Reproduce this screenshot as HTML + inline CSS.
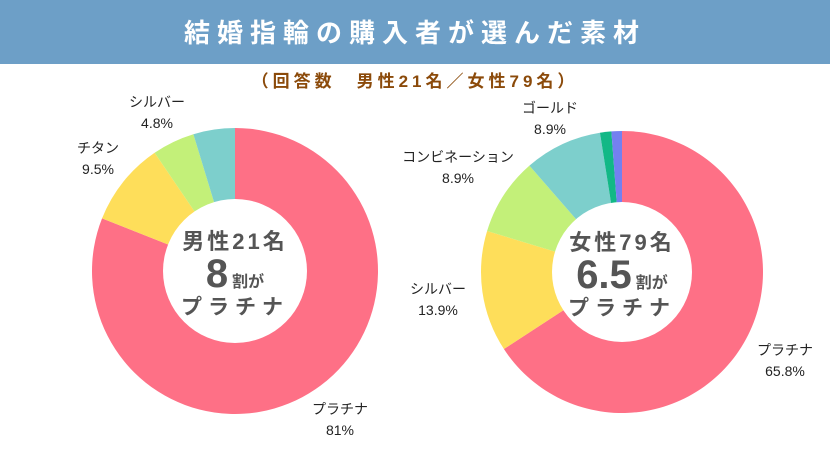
<!DOCTYPE html>
<html><head><meta charset="utf-8">
<style>
body{margin:0;width:830px;height:450px;background:#fff;overflow:hidden;font-family:"Liberation Sans","Noto Sans CJK JP",sans-serif;}
svg text{font-family:"Liberation Sans","Noto Sans CJK JP",sans-serif;}
</style></head>
<body>
<svg id="c" width="830" height="450">
<rect x="0" y="0" width="830" height="64" fill="#6d9fc7"/>
<text x="415" y="42" text-anchor="middle" font-size="26" font-weight="bold" fill="#fff" letter-spacing="7">結婚指輪の購入者が選んだ素材</text>
<text x="415" y="87" text-anchor="middle" font-size="17" font-weight="bold" fill="#8b4a0a" letter-spacing="4">（回答数　男性21名／女性79名）</text>
<g id="left"></g><g id="right"></g>
</svg>
<script>
const leftValues=[81,9.5,4.8,4.7];
const leftLabels=["プラチナ","チタン","シルバー",""];
const rightValues=[65.8,13.9,8.9,8.9,1.3,1.2];
const rightLabels=["プラチナ","シルバー","コンビネーション","ゴールド","",""];
const leftColors=["#fe7086","#fede5a","#c3f079","#7dcfcc"];
const rightColors=["#fe7086","#fede5a","#c3f079","#7dcfcc","#12b886","#7480f0"];
const NS="http://www.w3.org/2000/svg";
function donut(g,cx,cy,R,r,vals,cols,labels,labelPos){
  const tot=vals.reduce((a,b)=>a+b,0);let a0=0;
  vals.forEach((v,i)=>{
    const a1=a0+v/tot*2*Math.PI;
    const p=(a,rad)=>[cx+rad*Math.sin(a),cy-rad*Math.cos(a)];
    const [x0,y0]=p(a0,R),[x1,y1]=p(a1,R);
    const lg=(a1-a0)>Math.PI?1:0;
    const path=document.createElementNS(NS,"path");
    path.setAttribute("d",`M${cx},${cy}L${x0},${y0}A${R},${R} 0 ${lg} 1 ${x1},${y1}Z`);
    path.setAttribute("fill",cols[i]);
    
    
    g.appendChild(path);
    if(labels[i]){
      const [lx,ly]=labelPos[i];
      const t=document.createElementNS(NS,"text");
      t.setAttribute("x",lx);t.setAttribute("y",ly);t.setAttribute("text-anchor","middle");
      t.setAttribute("font-size","14");t.setAttribute("fill","#222");
      t.textContent=labels[i];
      
      
      g.appendChild(t);
      const t2=document.createElementNS(NS,"text");
      t2.setAttribute("x",lx);t2.setAttribute("y",ly+21);t2.setAttribute("text-anchor","middle");
      t2.setAttribute("font-size","14");t2.setAttribute("fill","#222");
      t2.textContent=(+vals[i].toFixed(1))+"%";
      
      
      g.appendChild(t2);
    }
    a0=a1;
  });
  const c=document.createElementNS(NS,"circle");
  c.setAttribute("cx",cx);c.setAttribute("cy",cy);c.setAttribute("r",r);c.setAttribute("fill","#fff");
  
  
  g.appendChild(c);
}
donut(document.getElementById("left"),235,271,143,72,leftValues,leftColors,leftLabels,[[340,414],[98,153],[157,107],[0,0]]);
donut(document.getElementById("right"),622,272,141,70,rightValues,rightColors,rightLabels,[[785,355],[438,294],[458,162],[550,113]]);
function center(cx,cy,title,big,id){
  const g=document.getElementById(id);
  g.insertAdjacentHTML("beforeend",
  `<text x="${cx}" y="${cy-22}" text-anchor="middle" font-size="22" font-weight="bold" fill="#555" letter-spacing="3">${title}</text>
   <text x="${cx}" y="${cy+16}" text-anchor="middle" fill="#555" font-weight="bold"><tspan font-size="40">${big}</tspan><tspan font-size="16" dx="4">割が</tspan></text>
   <text x="${cx}" y="${cy+43}" text-anchor="middle" font-size="21" font-weight="bold" fill="#555" letter-spacing="6">プラチナ</text>`);
}
center(235,271,"男性21名","8","left");
center(622,272,"女性79名","6.5","right");
</script>
</body></html>
